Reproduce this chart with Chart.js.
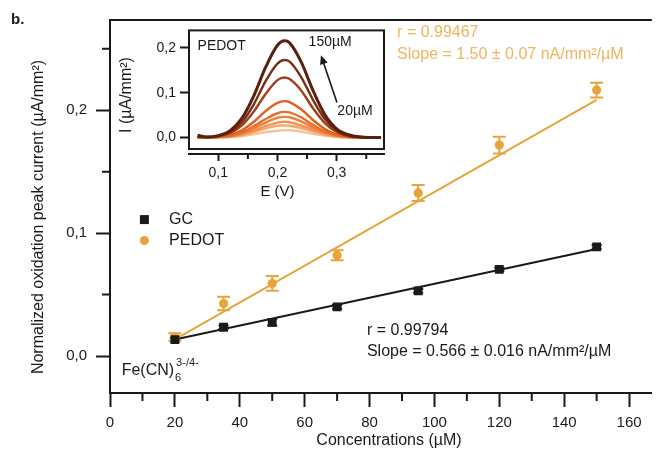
<!DOCTYPE html>
<html>
<head>
<meta charset="utf-8">
<script src="https://cdn.jsdelivr.net/npm/chart.js@4.4.0/dist/chart.umd.min.js"></script>
<style>
  body { margin: 0; background: #fff; }
  #wrap { position: relative; width: 658px; height: 450px; overflow: hidden; background: #fff; }
  #main { position: absolute; left: 0; top: 0; }
  #inset { position: absolute; left: 112px; top: 18px; }
</style>
</head>
<body>
<div id="wrap">
  <canvas id="main" width="658" height="450"></canvas>
  <canvas id="inset" width="276" height="185"></canvas>
</div>
<script>
// main plot: normalized peak current vs concentration
const concentrations = [20, 35, 50, 70, 95, 120, 150];
const gcValues = [0.0134, 0.0234, 0.0274, 0.0400, 0.0530, 0.0704, 0.0888];
const gcErrors = [0.0015, 0.0015, 0.0025, 0.0015, 0.0015, 0.0015, 0.0015];
const pedotValues = [0.0155, 0.0427, 0.0590, 0.0820, 0.1327, 0.1716, 0.2164];
const pedotErrors = [0.003, 0.0055, 0.006, 0.004, 0.0065, 0.0068, 0.006];
const fitX = [20, 150];
const gcFit = [0.0135, 0.0871];
const pedotFit = [0.0135, 0.2085];
const xMajorTicks = [0, 20, 40, 60, 80, 100, 120, 140, 160];
const xMinorTicks = [10, 30, 50, 70, 90, 110, 130, 150];
const yMajorTicks = [0, 0.1, 0.2];
const yMinorTicks = [0.05, 0.15, 0.25];

// inset: DPV curves for PEDOT
const potentials = [0.065, 0.08, 0.10, 0.12, 0.14, 0.16, 0.18, 0.20, 0.212, 0.22, 0.24, 0.26, 0.28, 0.30, 0.32, 0.34, 0.36, 0.375];
const insetLabels = ['150µM', '120µM', '95µM', '70µM', '50µM', '40µM', '35µM', '25µM', '20µM'];
const insetCurves = [
  [0.005, 0.001, 0.004, 0.015, 0.043, 0.093, 0.157, 0.206, 0.216, 0.212, 0.169, 0.105, 0.051, 0.019, 0.006, 0.001, 0, 0],
  [0.002, 0.001, 0.003, 0.012, 0.034, 0.074, 0.126, 0.165, 0.173, 0.170, 0.135, 0.084, 0.041, 0.015, 0.004, 0.001, 0, 0],
  [0.001, 0, 0.003, 0.010, 0.027, 0.058, 0.097, 0.128, 0.134, 0.131, 0.105, 0.065, 0.032, 0.012, 0.003, 0.001, 0, 0],
  [0, 0, 0.002, 0.006, 0.016, 0.035, 0.059, 0.077, 0.081, 0.079, 0.063, 0.039, 0.019, 0.007, 0.002, 0, 0, 0],
  [0, 0, 0.001, 0.004, 0.011, 0.025, 0.041, 0.054, 0.057, 0.056, 0.045, 0.028, 0.013, 0.005, 0.001, 0, 0, 0],
  [0, 0, 0.001, 0.003, 0.009, 0.020, 0.033, 0.044, 0.046, 0.045, 0.036, 0.022, 0.011, 0.004, 0.001, 0, 0, 0],
  [0, 0, 0.001, 0.002, 0.007, 0.015, 0.025, 0.033, 0.035, 0.034, 0.027, 0.017, 0.008, 0.003, 0.001, 0, 0, 0],
  [0, 0, 0, 0.002, 0.005, 0.012, 0.020, 0.026, 0.027, 0.026, 0.021, 0.013, 0.006, 0.002, 0, 0, 0, 0],
  [0, 0, 0, 0.001, 0.003, 0.007, 0.012, 0.015, 0.016, 0.016, 0.013, 0.008, 0.004, 0.001, 0, 0, 0, 0]
];
const insetColors = ['#5a1f0e', '#7b2c12', '#a33f18', '#e0621f', '#e86f2c', '#ee7f3e', '#f29355', '#f5a96f', '#f8c297'];
const insetXTicks = [0.1, 0.2, 0.3];
const insetXMinor = [0.15, 0.25, 0.35];
const insetYTicks = [0, 0.1, 0.2];

const ORANGE = '#e8a43a';
const ORANGE_TEXT = '#efb55c';
const INK = '#1a1a1a';
const FONT = "'Liberation Sans', Arial, sans-serif";

Chart.defaults.font.family = FONT;
Chart.defaults.color = INK;

const comma = (v) => v.toFixed(1).replace('.', ',');
const fixedTicks = (list) => (scale) => { scale.ticks = list.map((v) => ({ value: v })); };
const pts = (xs, ys) => xs.map((x, i) => ({ x: x, y: ys[i] }));

function minorTicks(chart, xList, yList, len, width) {
  const ctx = chart.ctx;
  const area = chart.chartArea;
  const xs = chart.scales.x, ys = chart.scales.y;
  ctx.save();
  ctx.strokeStyle = INK;
  ctx.lineWidth = width;
  ctx.beginPath();
  xList.forEach((v) => {
    const px = xs.getPixelForValue(v);
    ctx.moveTo(px, area.bottom);
    ctx.lineTo(px, area.bottom + len);
  });
  yList.forEach((v) => {
    const py = ys.getPixelForValue(v);
    ctx.moveTo(area.left, py);
    ctx.lineTo(area.left - len, py);
  });
  ctx.stroke();
  ctx.restore();
}

const errorBars = {
  id: 'errorBars',
  beforeDatasetsDraw(chart) {
    const ctx = chart.ctx;
    const xs = chart.scales.x, ys = chart.scales.y;
    chart.data.datasets.forEach((ds) => {
      if (!ds.errors) return;
      ctx.save();
      ctx.strokeStyle = ds.borderColor;
      ctx.lineWidth = 2;
      ds.data.forEach((p, i) => {
        const px = xs.getPixelForValue(p.x);
        const top = ys.getPixelForValue(p.y + ds.errors[i]);
        const bot = ys.getPixelForValue(p.y - ds.errors[i]);
        const cap = ds.capWidth;
        ctx.beginPath();
        ctx.moveTo(px, top); ctx.lineTo(px, bot);
        ctx.moveTo(px - cap, top); ctx.lineTo(px + cap, top);
        ctx.moveTo(px - cap, bot); ctx.lineTo(px + cap, bot);
        ctx.stroke();
      });
      ctx.restore();
    });
  }
};

const mainDecor = {
  id: 'mainDecor',
  afterDraw(chart) {
    const ctx = chart.ctx;
    const area = chart.chartArea;
    const xs = chart.scales.x, ys = chart.scales.y;
    const X = (v) => xs.getPixelForValue(v);
    const Y = (v) => ys.getPixelForValue(v);

    // top frame line
    ctx.save();
    ctx.strokeStyle = INK;
    ctx.lineWidth = 2;
    ctx.beginPath();
    ctx.moveTo(area.left - 1, area.top);
    ctx.lineTo(area.right, area.top);
    ctx.stroke();
    ctx.restore();

    minorTicks(chart, xMinorTicks, yMinorTicks, 8, 2);

    ctx.save();
    ctx.fillStyle = INK;
    ctx.textBaseline = 'middle';

    // panel label
    ctx.font = 'bold 15px ' + FONT;
    ctx.textAlign = 'left';
    ctx.fillText('b.', 11, 20);

    // axis titles
    ctx.font = '16px ' + FONT;
    ctx.textAlign = 'center';
    ctx.fillText('Concentrations (µM)', 389, 441);
    ctx.save();
    ctx.translate(39, 217);
    ctx.rotate(-Math.PI / 2);
    ctx.fillText('Normalized oxidation peak current (µA/mm²)', 0, 0);
    ctx.restore();

    // legend
    const lx = X(10.6);
    ctx.fillRect(lx - 4.5, Y(0.111) - 4.5, 9, 9);
    ctx.fillStyle = ORANGE;
    ctx.beginPath();
    ctx.arc(lx, Y(0.094), 4.5, 0, Math.PI * 2);
    ctx.fill();
    ctx.fillStyle = INK;
    ctx.textAlign = 'left';
    ctx.fillText('GC', X(18.2), Y(0.111));
    ctx.fillText('PEDOT', X(18.2), Y(0.094));

    // fit annotations
    ctx.fillStyle = ORANGE_TEXT;
    ctx.fillText('r = 0.99467', X(88.5), Y(0.263));
    ctx.fillText('Slope = 1.50 ± 0.07 nA/mm²/µM', X(88.5), Y(0.245));
    ctx.fillStyle = INK;
    ctx.fillText('r = 0.99794', X(79.2), Y(0.0204));
    ctx.fillText('Slope = 0.566 ± 0.016 nA/mm²/µM', X(79.2), Y(0.0033));

    // redox probe label
    ctx.textBaseline = 'alphabetic';
    const fx = X(3.6), fy = 375;
    ctx.fillText('Fe(CN)', fx, fy);
    const w = ctx.measureText('Fe(CN)').width;
    ctx.font = '11px ' + FONT;
    ctx.fillText('6', fx + w + 1, fy + 6);
    ctx.fillText('3-/4-', fx + w + 2, fy - 9);
    ctx.restore();
  }
};

new Chart(document.getElementById('main'), {
  type: 'scatter',
  data: {
    datasets: [
      {
        label: 'GC',
        data: pts(concentrations, gcValues),
        errors: gcErrors,
        capWidth: 5,
        backgroundColor: INK,
        borderColor: INK,
        pointStyle: 'rect',
        pointRadius: 6.2,
        borderWidth: 0
      },
      {
        label: 'PEDOT',
        data: pts(concentrations, pedotValues),
        errors: pedotErrors,
        capWidth: 6.5,
        backgroundColor: ORANGE,
        borderColor: ORANGE,
        pointRadius: 4.6,
        borderWidth: 0
      },
      {
        label: 'GC fit',
        data: pts(fitX, gcFit),
        showLine: true,
        borderColor: INK,
        borderWidth: 2,
        pointRadius: 0
      },
      {
        label: 'PEDOT fit',
        data: pts(fitX, pedotFit),
        showLine: true,
        borderColor: ORANGE,
        borderWidth: 2,
        pointRadius: 0
      }
    ]
  },
  options: {
    responsive: false,
    animation: false,
    layout: { padding: { top: 20, right: 0, left: 0, bottom: 0 } },
    plugins: { legend: { display: false }, tooltip: { enabled: false } },
    scales: {
      x: {
        type: 'linear',
        min: 0,
        max: 167,
        afterBuildTicks: fixedTicks(xMajorTicks),
        afterFit: (s) => { s.height = 57; },
        grid: { display: true, drawOnChartArea: false, tickLength: 14, tickWidth: 2, tickColor: INK },
        border: { display: true, width: 2, color: INK },
        ticks: { font: { size: 15 }, padding: 7, color: INK, maxRotation: 0 }
      },
      y: {
        type: 'linear',
        min: -0.0301,
        max: 0.2734,
        afterBuildTicks: fixedTicks(yMajorTicks),
        afterFit: (s) => { s.width = 110; },
        grid: { display: true, drawOnChartArea: false, tickLength: 14, tickWidth: 2, tickColor: INK },
        border: { display: true, width: 2, color: INK },
        ticks: { font: { size: 15 }, padding: 9, color: INK, callback: comma }
      }
    }
  },
  plugins: [errorBars, mainDecor]
});

const insetDecor = {
  id: 'insetDecor',
  beforeDatasetsDraw(chart) {
    const ctx = chart.ctx;
    const a = chart.chartArea;
    ctx.save();
    ctx.fillStyle = '#fff';
    ctx.fillRect(a.left, a.top, a.right - a.left, a.bottom - 5 - a.top);
    ctx.restore();
  },
  afterDraw(chart) {
    const ctx = chart.ctx;
    const a = chart.chartArea;
    const xs = chart.scales.x, ys = chart.scales.y;
    const X = (v) => xs.getPixelForValue(v);
    const Y = (v) => ys.getPixelForValue(v);

    ctx.save();
    ctx.strokeStyle = INK;
    ctx.lineWidth = 2;
    ctx.strokeRect(a.left, a.top, a.right - a.left, a.bottom - 5 - a.top);
    ctx.restore();

    minorTicks(chart, insetXMinor, [], 5, 2);

    ctx.save();
    ctx.fillStyle = INK;
    ctx.textBaseline = 'middle';
    ctx.font = '14px ' + FONT;
    ctx.textAlign = 'left';
    ctx.fillText('PEDOT', X(0.065), Y(0.203));
    ctx.textAlign = 'center';
    ctx.fillText('150µM', X(0.289), Y(0.213));
    ctx.fillText('20µM', X(0.331), Y(0.058));

    // arrow from 20µM to 150µM
    const x0 = X(0.3005), y0 = Y(0.078), x1 = X(0.2735), y1 = Y(0.1835);
    const ang = Math.atan2(y1 - y0, x1 - x0);
    ctx.strokeStyle = INK;
    ctx.lineWidth = 1.6;
    ctx.beginPath();
    ctx.moveTo(x0, y0);
    ctx.lineTo(x1 - 6 * Math.cos(ang), y1 - 6 * Math.sin(ang));
    ctx.stroke();
    ctx.beginPath();
    ctx.moveTo(x1, y1);
    ctx.lineTo(x1 - 9 * Math.cos(ang) + 4 * Math.sin(ang), y1 - 9 * Math.sin(ang) - 4 * Math.cos(ang));
    ctx.lineTo(x1 - 9 * Math.cos(ang) - 4 * Math.sin(ang), y1 - 9 * Math.sin(ang) + 4 * Math.cos(ang));
    ctx.closePath();
    ctx.fill();

    // axis titles
    ctx.font = '15px ' + FONT;
    ctx.fillText('E (V)', X(0.2), 174);
    ctx.font = '16px ' + FONT;
    ctx.save();
    ctx.translate(15, 77);
    ctx.rotate(-Math.PI / 2);
    ctx.fillText('I (µA/mm²)', 0, 0);
    ctx.restore();
    ctx.restore();
  }
};

new Chart(document.getElementById('inset'), {
  type: 'scatter',
  data: {
    datasets: insetCurves.map((curve, i) => ({
      label: insetLabels[i],
      data: pts(potentials, curve),
      showLine: true,
      borderColor: insetColors[i],
      borderWidth: i === 0 ? 3 : 2.4,
      pointRadius: 0,
      cubicInterpolationMode: 'monotone'
    }))
  },
  options: {
    responsive: false,
    animation: false,
    layout: { padding: { top: 2, right: 4, left: 0, bottom: 0 } },
    plugins: { legend: { display: false }, tooltip: { enabled: false } },
    scales: {
      x: {
        type: 'linear',
        min: 0.0505,
        max: 0.380,
        afterBuildTicks: fixedTicks(insetXTicks),
        afterFit: (s) => { s.height = 49; },
        grid: { display: true, drawOnChartArea: false, tickLength: 7, tickWidth: 2, tickColor: INK },
        border: { display: true, width: 2, color: INK },
        ticks: { font: { size: 14 }, padding: 4, color: INK, callback: comma, maxRotation: 0 }
      },
      y: {
        type: 'linear',
        min: -0.0371,
        max: 0.2392,
        afterBuildTicks: fixedTicks(insetYTicks),
        afterFit: (s) => { s.width = 77; },
        grid: { display: true, drawOnChartArea: false, tickLength: 9, tickWidth: 2, tickColor: INK },
        border: { display: false },
        ticks: { font: { size: 14 }, padding: 4, color: INK, callback: comma }
      }
    }
  },
  plugins: [insetDecor]
});
</script>
</body>
</html>
